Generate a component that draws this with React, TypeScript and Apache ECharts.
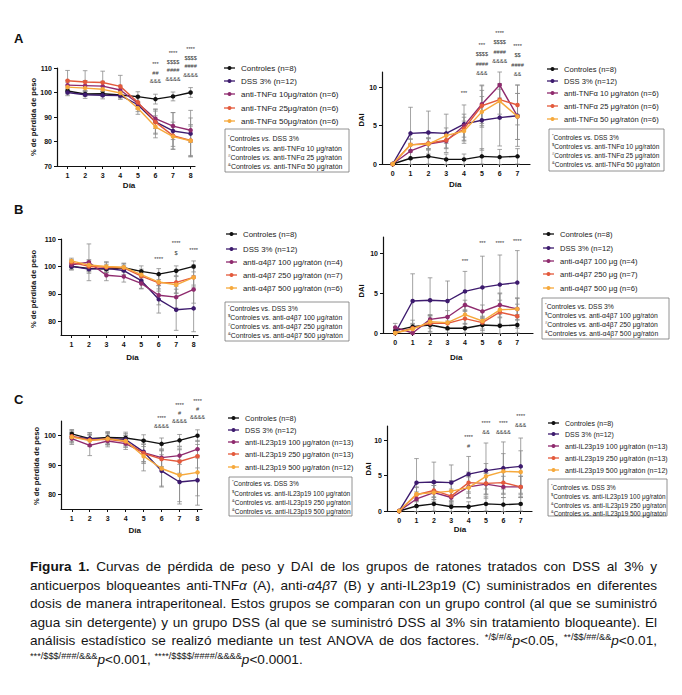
import React, { useEffect, useRef } from "react";
import * as echarts from "echarts";

const FONT = '"Liberation Sans", Arial, Helvetica, sans-serif';
const COLORS = ["#111111", "#3d1b6e", "#8f2b6e", "#e35a3c", "#f6a93c"];
const ERR_COLOR = "#8c8c8c";

// ---------- DATA ----------
const DAYS_PESO = [1, 2, 3, 4, 5, 6, 7, 8];
const DAYS_DAI = [0, 1, 2, 3, 4, 5, 6, 7];

const TICKS_PESO_A = [70, 80, 90, 100, 110];
const TICKS_PESO_B = [80, 90, 100, 110];
const TICKS_PESO_C = [80, 90, 100];
const TICKS_DAI = [0, 5, 10];

// Panel A - peso
const A_PESO_CTRL = [100.6, 99.4, 99.5, 99.0, 98.3, 97.3, 98.4, 100.0];
const A_PESO_DSS = [100.0, 99.1, 98.9, 98.8, 95.0, 88.0, 84.3, 83.2];
const A_PESO_T10 = [103.0, 102.8, 102.6, 101.0, 95.6, 89.3, 86.3, 84.6];
const A_PESO_T25 = [104.8, 104.3, 104.1, 102.5, 96.0, 87.9, 82.4, 80.4];
const A_PESO_T50 = [102.2, 101.8, 101.3, 99.8, 93.6, 86.0, 82.0, 80.3];
const A_PESO_CTRL_SD = [1.2, 1.0, 1.0, 1.0, 2.0, 2.0, 1.8, 2.0];
const A_PESO_DSS_SD = [1.3, 1.5, 1.5, 1.5, 2.8, 5.0, 7.5, 9.5];
const A_PESO_T10_SD = [2.0, 2.0, 2.0, 2.0, 2.5, 4.0, 5.5, 5.0];
const A_PESO_T25_SD = [4.2, 4.6, 4.6, 4.5, 2.5, 4.5, 5.5, 6.5];
const A_PESO_T50_SD = [2.0, 3.0, 3.0, 2.5, 2.5, 4.5, 4.0, 6.0];

// Panel A - DAI
const A_DAI_CTRL = [0, 0.75, 1.0, 0.6, 0.6, 1.0, 0.9, 1.0];
const A_DAI_DSS = [0, 4.0, 4.1, 4.0, 5.2, 5.7, 6.05, 6.3];
const A_DAI_T10 = [0, 1.7, 2.6, 3.0, 5.0, 7.8, 10.3, 6.2];
const A_DAI_T25 = [0, 2.5, 2.7, 3.1, 4.6, 7.6, 8.4, 7.7];
const A_DAI_T50 = [0, 2.5, 2.6, 3.7, 4.3, 6.8, 8.2, 6.2];
const A_DAI_CTRL_SD = [0, 0.8, 1.0, 0.7, 0.7, 1.0, 1.0, 1.0];
const A_DAI_DSS_SD = [0, 3.4, 2.8, 2.5, 2.5, 3.9, 3.7, 4.0];
const A_DAI_T10_SD = [0, 1.0, 0.8, 1.0, 1.5, 2.5, 1.7, 3.0];
const A_DAI_T25_SD = [0, 0.8, 0.7, 1.0, 1.5, 2.6, 1.9, 2.6];
const A_DAI_T50_SD = [0, 0.7, 0.7, 1.0, 1.3, 2.0, 2.3, 3.0];

// Panel B - peso
const B_PESO_CTRL = [100.0, 99.3, 99.0, 99.5, 98.2, 97.2, 98.4, 100.0];
const B_PESO_DSS = [100.0, 99.0, 99.3, 98.5, 94.8, 88.0, 84.2, 84.7];
const B_PESO_A100 = [100.6, 101.5, 96.8, 96.3, 93.8, 89.5, 88.8, 91.6];
const B_PESO_A250 = [101.5, 100.0, 99.7, 99.5, 96.5, 94.0, 94.2, 96.0];
const B_PESO_A500 = [102.0, 100.5, 100.0, 99.7, 97.0, 94.3, 93.3, 96.0];
const B_PESO_CTRL_SD = [1.2, 1.0, 1.0, 1.0, 2.0, 2.0, 1.8, 2.0];
const B_PESO_DSS_SD = [1.3, 1.5, 1.5, 1.5, 2.8, 5.0, 7.5, 8.5];
const B_PESO_A100_SD = [1.5, 6.7, 2.0, 2.0, 2.0, 3.5, 4.0, 5.0];
const B_PESO_A250_SD = [1.0, 2.0, 2.0, 1.5, 2.0, 3.0, 4.0, 4.5];
const B_PESO_A500_SD = [1.0, 2.0, 1.5, 1.5, 2.0, 2.5, 3.0, 3.5];

// Panel B - DAI
const B_DAI_CTRL = [0.3, 0.8, 1.0, 0.6, 0.6, 1.0, 0.9, 1.0];
const B_DAI_DSS = [0, 4.0, 4.1, 4.0, 5.2, 5.7, 6.05, 6.3];
const B_DAI_A100 = [0.7, 0, 1.7, 2.0, 3.5, 2.7, 3.5, 3.0];
const B_DAI_A250 = [0, 0.6, 1.2, 1.2, 1.8, 1.3, 2.6, 2.1];
const B_DAI_A500 = [0, 0.5, 1.4, 1.3, 2.3, 1.5, 2.9, 3.0];
const B_DAI_CTRL_SD = [0, 0.8, 1.0, 0.6, 0.6, 1.0, 1.0, 1.0];
const B_DAI_DSS_SD = [0, 3.4, 2.8, 2.5, 2.5, 3.9, 3.7, 4.0];
const B_DAI_A100_SD = [0.5, 0, 0.6, 0.8, 0.6, 0.8, 1.5, 1.3];
const B_DAI_A250_SD = [0, 0.6, 1.0, 0.8, 1.0, 0.8, 1.5, 1.5];
const B_DAI_A500_SD = [0, 0.6, 0.8, 0.8, 1.2, 1.2, 2.0, 1.4];

// Panel C - peso
const C_PESO_CTRL = [100.6, 99.0, 99.4, 99.2, 98.3, 97.2, 98.4, 100.0];
const C_PESO_DSS = [99.6, 99.0, 99.0, 98.7, 94.5, 88.0, 84.2, 84.8];
const C_PESO_I100 = [99.0, 96.7, 98.2, 97.3, 94.2, 92.5, 93.2, 95.4];
const C_PESO_I250 = [99.8, 98.5, 98.8, 98.0, 94.0, 92.0, 91.2, 93.0];
const C_PESO_I500 = [99.5, 98.3, 99.0, 98.2, 93.0, 88.8, 86.5, 87.5];
const C_PESO_CTRL_SD = [1.5, 2.0, 2.0, 2.0, 2.0, 2.0, 2.0, 2.0];
const C_PESO_DSS_SD = [1.5, 2.0, 2.0, 2.0, 4.0, 5.5, 7.5, 8.5];
const C_PESO_I100_SD = [2.0, 3.5, 2.0, 2.0, 3.0, 3.0, 3.0, 3.0];
const C_PESO_I250_SD = [2.0, 2.0, 2.0, 2.0, 3.0, 3.0, 4.0, 4.0];
const C_PESO_I500_SD = [2.0, 2.0, 2.0, 2.0, 5.0, 6.0, 9.0, 8.0];

// Panel C - DAI
const C_DAI_CTRL = [0, 0.7, 1.0, 0.6, 0.6, 1.0, 0.9, 1.0];
const C_DAI_DSS = [0, 4.0, 4.1, 4.0, 5.2, 5.7, 6.05, 6.3];
const C_DAI_I100 = [0, 1.7, 2.6, 1.9, 3.4, 3.8, 3.4, 3.4];
const C_DAI_I250 = [0, 2.3, 2.9, 2.1, 4.0, 3.9, 4.0, 3.4];
const C_DAI_I500 = [0, 2.4, 2.6, 2.8, 3.3, 4.9, 5.6, 5.5];
const C_DAI_CTRL_SD = [0, 0.8, 1.0, 0.7, 0.7, 1.0, 1.0, 1.0];
const C_DAI_DSS_SD = [0, 3.4, 2.8, 2.5, 2.5, 3.9, 3.7, 4.0];
const C_DAI_I100_SD = [0, 1.0, 1.0, 1.0, 1.5, 1.5, 1.5, 1.5];
const C_DAI_I250_SD = [0, 1.0, 1.0, 1.0, 1.5, 1.5, 1.5, 1.5];
const C_DAI_I500_SD = [0, 1.0, 1.0, 1.5, 1.5, 1.8, 2.5, 3.0];

// Legends
const LEG_A1 = ["Controles (n=8)", "DSS 3% (n=12)", "anti-TNFα 10μg/ratón (n=6)", "anti-TNFα 25μg/ratón (n=6)", "anti-TNFα 50μg/ratón (n=6)"];
const LEG_A2 = ["Controles (n=8)", "DSS 3% (n=12)", "anti-TNFα 10 μg/ratón (n=6)", "anti-TNFα 25 μg/ratón (n=6)", "anti-TNFα 50 μg/ratón (n=6)"];
const LEG_B1 = ["Controles (n=8)", "DSS 3% (n=12)", "anti-α4β7 100 μg/ratón (n=4)", "anti-α4β7 250 μg/ratón (n=7)", "anti-α4β7 500 μg/ratón (n=6)"];
const LEG_B2 = ["Controles (n=8)", "DSS 3% (n=12)", "anti-α4β7 100 μg (n=4)", "anti-α4β7 250 μg (n=7)", "anti-α4β7 500 μg (n=6)"];
const LEG_C = ["Controles (n=8)", "DSS 3% (n=12)", "anti-IL23p19 100 μg/ratón (n=13)", "anti-IL23p19 250 μg/ratón (n=13)", "anti-IL23p19 500 μg/ratón (n=12)"];

const BOX_A = [["*", "Controles vs. DSS 3%"], ["$", "Controles vs. anti-TNFα 10 μg/ratón"], ["#", "Controles vs. anti-TNFα 25 μg/ratón"], ["&", "Controles vs. anti-TNFα 50 μg/ratón"]];
const BOX_B = [["*", "Controles vs. DSS 3%"], ["$", "Controles vs. anti-α4β7 100 μg/ratón"], ["#", "Controles vs. anti-α4β7 250 μg/ratón"], ["&", "Controles vs. anti-α4β7 500 μg/ratón"]];
const BOX_C = [["*", "Controles vs. DSS 3%"], ["$", "Controles vs. anti-IL23p19 100 μg/ratón"], ["&", "Controles vs. anti-IL23p19 250 μg/ratón"], ["&", "Controles vs. anti-IL23p19 500 μg/ratón"]];

// Significance marks: [day, marks...]
const SIG_A1 = [[6, "***", "##", "&&&"], [7, "****", "$$$$", "####", "&&&&"], [8, "****", "$$$$", "####", "&&&&"]];
const SIG_A2 = [[4, "***"], [5, "***", "$$$$", "####", "&&&"], [6, "****", "$$$$", "####", "&&&&"], [7, "****", "$$", "####", "&&"]];
const SIG_B1 = [[6, "****"], [7, "****", "$"], [8, "****"]];
const SIG_B2 = [[4, "***"], [5, "***"], [6, "****"], [7, "****"]];
const SIG_C1 = [[6, "****", "&&&&"], [7, "****", "#", "&&&&"], [8, "****", "#", "&&&&"]];
const SIG_C2 = [[4, "****", "#"], [5, "****", "&&"], [6, "****", "&&&&"], [7, "****", "&&&"]];

const CAPTION = [
  "{b|Figura} {b|1.} Curvas de pérdida de peso y DAI de los grupos de ratones tratados con DSS al 3% y",
  "anticuerpos bloqueantes anti-TNF{i|α} (A), anti-{i|α}4{i|β}7 (B) y anti-IL23p19 (C) suministrados en diferentes",
  "dosis de manera intraperitoneal. Estos grupos se comparan con un grupo control (al que se suministró",
  "agua sin detergente) y un grupo DSS (al que se suministró DSS al 3% sin tratamiento bloqueante). El",
  "análisis estadístico se realizó mediante un test ANOVA de dos factores. {s|*/$/#/&}{i|p}<0.05, {s|**/$$/##/&&}{i|p}<0.01,",
  "{s|***/$$$/###/&&&}{i|p}<0.001, {s|****/$$$$/####/&&&&}{i|p}<0.0001.",
];

// ---------- LAYOUT ----------
type P = {
  g: { left: number; top: number; width: number; height: number };
  xMin: number; xMax: number; xTicks: number[];
  yMin: number; yMax: number; yTicks: number[];
  x: number[]; means: number[][]; sds: number[][];
  sig: any[]; sigTops: number[]; sigStep: number;
  yName: string; yNameX: number; yNameY: number; dayY: number;
  leg: string[]; legL: number; legY: number[]; legFont: number;
  box: string[][]; boxR: number[]; boxY: number[]; boxFont: number; boxItalic: boolean;
};

const PANELS: P[] = [
  {
    g: { left: 57, top: 68, width: 138, height: 98 }, xMin: 0.4, xMax: 8.25, xTicks: DAYS_PESO,
    yMin: 70, yMax: 110, yTicks: TICKS_PESO_A, x: DAYS_PESO,
    means: [A_PESO_CTRL, A_PESO_DSS, A_PESO_T10, A_PESO_T25, A_PESO_T50],
    sds: [A_PESO_CTRL_SD, A_PESO_DSS_SD, A_PESO_T10_SD, A_PESO_T25_SD, A_PESO_T50_SD],
    sig: SIG_A1, sigTops: [64, 53, 49], sigStep: 8.6,
    yName: "% de pérdida de peso", yNameX: 33, yNameY: 117, dayY: 185,
    leg: LEG_A1, legL: 224, legY: [68, 81, 94, 108, 121], legFont: 8,
    box: BOX_A, boxR: [225, 129, 124, 43], boxY: [138, 148, 157, 166], boxFont: 7, boxItalic: true,
  },
  {
    g: { left: 382, top: 72, width: 148, height: 92 }, xMin: -0.6, xMax: 7.7, xTicks: DAYS_DAI,
    yMin: 0, yMax: 12, yTicks: TICKS_DAI, x: DAYS_DAI,
    means: [A_DAI_CTRL, A_DAI_DSS, A_DAI_T10, A_DAI_T25, A_DAI_T50],
    sds: [A_DAI_CTRL_SD, A_DAI_DSS_SD, A_DAI_T10_SD, A_DAI_T25_SD, A_DAI_T50_SD],
    sig: SIG_A2, sigTops: [93, 45, 33, 46], sigStep: 9.3,
    yName: "DAI", yNameX: 361, yNameY: 120, dayY: 184,
    leg: LEG_A2, legL: 547, legY: [69, 81, 93, 106, 119], legFont: 7.6,
    box: BOX_A, boxR: [549, 129, 115, 42], boxY: [137, 146, 155, 164], boxFont: 6.6, boxItalic: false,
  },
  {
    g: { left: 61, top: 239, width: 137, height: 96 }, xMin: 0.4, xMax: 8.25, xTicks: DAYS_PESO,
    yMin: 75, yMax: 110, yTicks: TICKS_PESO_B, x: DAYS_PESO,
    means: [B_PESO_CTRL, B_PESO_DSS, B_PESO_A100, B_PESO_A250, B_PESO_A500],
    sds: [B_PESO_CTRL_SD, B_PESO_DSS_SD, B_PESO_A100_SD, B_PESO_A250_SD, B_PESO_A500_SD],
    sig: SIG_B1, sigTops: [259, 243, 250], sigStep: 10,
    yName: "% de pérdida de peso", yNameX: 33, yNameY: 289, dayY: 357,
    leg: LEG_B1, legL: 226, legY: [234, 249, 262, 275, 288], legFont: 7.8,
    box: BOX_B, boxR: [225, 302, 124, 39], boxY: [308, 317, 326, 335], boxFont: 6.9, boxItalic: false,
  },
  {
    g: { left: 383, top: 237, width: 150, height: 96 }, xMin: -0.7, xMax: 7.9, xTicks: DAYS_DAI,
    yMin: 0, yMax: 12, yTicks: TICKS_DAI, x: DAYS_DAI,
    means: [B_DAI_CTRL, B_DAI_DSS, B_DAI_A100, B_DAI_A250, B_DAI_A500],
    sds: [B_DAI_CTRL_SD, B_DAI_DSS_SD, B_DAI_A100_SD, B_DAI_A250_SD, B_DAI_A500_SD],
    sig: SIG_B2, sigTops: [261, 243, 243, 241], sigStep: 9,
    yName: "DAI", yNameX: 361, yNameY: 291, dayY: 357,
    leg: LEG_B2, legL: 543, legY: [234, 248, 261, 274, 288], legFont: 7.6,
    box: BOX_B, boxR: [542, 298, 127, 41], boxY: [306, 315, 324, 333], boxFont: 6.8, boxItalic: false,
  },
  {
    g: { left: 61, top: 421, width: 141, height: 88 }, xMin: 0.4, xMax: 8.25, xTicks: DAYS_PESO,
    yMin: 75, yMax: 105, yTicks: TICKS_PESO_C, x: DAYS_PESO,
    means: [C_PESO_CTRL, C_PESO_DSS, C_PESO_I100, C_PESO_I250, C_PESO_I500],
    sds: [C_PESO_CTRL_SD, C_PESO_DSS_SD, C_PESO_I100_SD, C_PESO_I250_SD, C_PESO_I500_SD],
    sig: SIG_C1, sigTops: [418, 405, 401], sigStep: 8,
    yName: "% de pérdida de peso", yNameX: 36, yNameY: 466, dayY: 530,
    leg: LEG_C, legL: 228, legY: [418, 430, 442, 454, 467], legFont: 7.4,
    box: BOX_C, boxR: [229, 477, 123, 39], boxY: [483, 493, 502, 511], boxFont: 6.6, boxItalic: false,
  },
  {
    g: { left: 387, top: 426, width: 145, height: 85 }, xMin: -0.7, xMax: 7.65, xTicks: DAYS_DAI,
    yMin: 0, yMax: 12, yTicks: TICKS_DAI, x: DAYS_DAI,
    means: [C_DAI_CTRL, C_DAI_DSS, C_DAI_I100, C_DAI_I250, C_DAI_I500],
    sds: [C_DAI_CTRL_SD, C_DAI_DSS_SD, C_DAI_I100_SD, C_DAI_I250_SD, C_DAI_I500_SD],
    sig: SIG_C2, sigTops: [437, 423, 423, 416], sigStep: 8.6,
    yName: "DAI", yNameX: 368, yNameY: 469, dayY: 529,
    leg: LEG_C, legL: 548, legY: [423, 434, 446, 458, 470], legFont: 7,
    box: BOX_C, boxR: [548, 479, 119, 37], boxY: [487, 496, 505, 513], boxFont: 6.4, boxItalic: false,
  },
];

const LETTERS: [string, number, number][] = [["A", 14, 38], ["B", 14, 209], ["C", 14, 399]];

// ---------- HELPERS ----------
function px(p: P, v: number) {
  return p.g.left + ((v - p.xMin) / (p.xMax - p.xMin)) * p.g.width;
}

function parseWord(w: string) {
  const segs: { t: string; k: string }[] = [];
  const re = /\{(\w)\|([^}]*)\}|([^{]+)/g;
  let m: RegExpExecArray | null;
  while ((m = re.exec(w))) {
    if (m[3] !== undefined) segs.push({ t: m[3], k: "n" });
    else segs.push({ t: m[2], k: m[1] });
  }
  return segs;
}

const CAP_SIZE = 13.6;
const SUP_SIZE = 9.2;
function segFont(k: string) {
  return {
    fontSize: k === "s" ? SUP_SIZE : CAP_SIZE,
    fontWeight: k === "b" ? "bold" : "normal",
    fontStyle: k === "i" ? "italic" : "normal",
  };
}

function buildCaption(): any[] {
  const canvas = document.createElement("canvas");
  const ctx = canvas.getContext("2d")!;
  const meas = (s: { t: string; k: string }) => {
    const f = segFont(s.k);
    ctx.font = `${f.fontStyle} ${f.fontWeight} ${f.fontSize}px ${FONT}`;
    return ctx.measureText(s.t).width;
  };
  const els: any[] = [];
  const X0 = 30, X1 = 657, Y0 = 566.5, STEP = 18.6;
  CAPTION.forEach((line, li) => {
    const y = Y0 + li * STEP;
    const words = line.split(" ").map(parseWord);
    const widths = words.map((segs) => segs.reduce((a, s) => a + meas(s), 0));
    const total = widths.reduce((a, b) => a + b, 0);
    const sp = meas({ t: " ", k: "n" });
    const justify = li < CAPTION.length - 1;
    let gap = justify ? (X1 - X0 - total) / (words.length - 1) : sp;
    if (gap < sp * 0.7) gap = sp * 0.7;
    let x = X0;
    words.forEach((segs, wi) => {
      let sx = x;
      segs.forEach((s) => {
        els.push({
          type: "text", x: sx, y: s.k === "s" ? y - 4 : y, silent: true,
          style: { text: s.t, ...segFont(s.k), fontFamily: FONT, fill: "#141414", align: "left", verticalAlign: "middle" },
        });
        sx += meas(s);
      });
      x += widths[wi] + gap;
    });
  });
  return els;
}

function panelGraphics(p: P): any[] {
  const els: any[] = [];
  p.sig.forEach((col: any[], ci: number) => {
    const cx = px(p, col[0]);
    col.slice(1).forEach((mark: string, k: number) => {
      els.push({
        type: "text", x: cx, y: p.sigTops[ci] + k * p.sigStep, silent: true,
        style: { text: mark, fontSize: 5.6, fontFamily: FONT, fill: "#333", align: "center", verticalAlign: "middle" },
      });
    });
  });
  els.push({
    type: "text", x: p.yNameX, y: p.yNameY, rotation: Math.PI / 2, silent: true,
    style: { text: p.yName, fontSize: 7.6, fontWeight: "bold", fontFamily: FONT, fill: "#111", align: "center", verticalAlign: "middle" },
  });
  const dayX = (px(p, p.xTicks[0]) + px(p, p.xTicks[p.xTicks.length - 1])) / 2;
  els.push({
    type: "text", x: dayX, y: p.dayY, silent: true,
    style: { text: "Día", fontSize: 8, fontWeight: "bold", fontFamily: FONT, fill: "#111", align: "center", verticalAlign: "middle" },
  });
  p.leg.forEach((lab, i) => {
    const y = p.legY[i];
    els.push({ type: "line", silent: true, shape: { x1: p.legL, y1: y, x2: p.legL + 11, y2: y }, style: { stroke: COLORS[i], lineWidth: 1.3 } });
    els.push({ type: "circle", silent: true, shape: { cx: p.legL + 5.5, cy: y, r: 2 }, style: { fill: COLORS[i] } });
    els.push({
      type: "text", x: p.legL + 17, y, silent: true,
      style: { text: lab, fontSize: p.legFont, fontFamily: FONT, fill: "#222", align: "left", verticalAlign: "middle" },
    });
  });
  const [bx, by, bw, bh] = p.boxR;
  els.push({ type: "rect", silent: true, shape: { x: bx, y: by, width: bw, height: bh }, style: { fill: "none", stroke: "#777", lineWidth: 0.8 } });
  p.box.forEach(([sym, txt], i) => {
    const parts = txt.split(" vs. ");
    els.push({
      type: "text", x: bx + 3, y: p.boxY[i], silent: true,
      style: {
        text: `{s|${sym}}${parts[0]} {v|vs.} ${parts[1]}`,
        fontSize: p.boxFont, fontFamily: FONT, fill: "#222", align: "left", verticalAlign: "middle",
        rich: {
          s: { fontSize: p.boxFont * 0.62, fontFamily: FONT, fill: "#222", verticalAlign: "top", lineHeight: p.boxFont + 1 },
          v: { fontSize: p.boxFont, fontFamily: FONT, fill: "#222", fontStyle: p.boxItalic ? "italic" : "normal", lineHeight: p.boxFont + 1 },
        },
      },
    });
  });
  return els;
}

function errRender(params: any, api: any) {
  const x = api.value(0), lo = api.value(1), hi = api.value(2);
  if (hi - lo <= 0) return null;
  const p1 = api.coord([x, lo]);
  const p2 = api.coord([x, hi]);
  const c = 2.3;
  const st = { stroke: ERR_COLOR, lineWidth: 0.8 };
  return {
    type: "group",
    children: [
      { type: "line", shape: { x1: p1[0], y1: p1[1], x2: p2[0], y2: p2[1] }, style: st },
      { type: "line", shape: { x1: p1[0] - c, y1: p1[1], x2: p1[0] + c, y2: p1[1] }, style: st },
      { type: "line", shape: { x1: p2[0] - c, y1: p2[1], x2: p2[0] + c, y2: p2[1] }, style: st },
    ],
  };
}

function buildOption() {
  const grid = PANELS.map((p) => ({ ...p.g, containLabel: false, outerBoundsMode: "none" }));
  const axisCommon = {
    splitLine: { show: false },
    axisLine: { show: true, onZero: false, lineStyle: { color: "#111", width: 1.2 } },
  };
  const xAxis = PANELS.map((p, i) => ({
    type: "value", gridIndex: i, min: p.xMin, max: p.xMax, ...axisCommon,
    axisTick: { show: true, customValues: p.xTicks, length: 3, lineStyle: { color: "#111", width: 1 } },
    axisLabel: { customValues: p.xTicks, fontSize: 7, fontWeight: "bold", color: "#111", fontFamily: FONT, margin: 6 },
  }));
  const yAxis = PANELS.map((p, i) => ({
    type: "value", gridIndex: i, min: p.yMin, max: p.yMax, ...axisCommon,
    axisTick: { show: true, customValues: p.yTicks, length: 3, lineStyle: { color: "#111", width: 1 } },
    axisLabel: { customValues: p.yTicks, fontSize: 7, fontWeight: "bold", color: "#111", fontFamily: FONT, margin: 5 },
  }));
  const series: any[] = [];
  PANELS.forEach((p, i) => {
    p.means.forEach((m, j) => {
      series.push({
        type: "custom", xAxisIndex: i, yAxisIndex: i, silent: true, z: 1,
        renderItem: errRender, encode: { x: 0, y: [1, 2] },
        data: p.x.map((d, k) => [d, m[k] - p.sds[j][k], m[k] + p.sds[j][k]]),
      });
    });
    p.means.forEach((m, j) => {
      series.push({
        type: "line", name: p.leg[j], xAxisIndex: i, yAxisIndex: i, silent: true, z: 3 + j,
        symbol: "circle", symbolSize: 4.5, showSymbol: true,
        lineStyle: { color: COLORS[j], width: 1.4 }, itemStyle: { color: COLORS[j] },
        data: p.x.map((d, k) => [d, m[k]]),
      });
    });
  });
  const graphicEls: any[] = [];
  LETTERS.forEach(([t, x, y]) => {
    graphicEls.push({
      type: "text", x, y, silent: true,
      style: { text: t, fontSize: 13, fontWeight: "bold", fontFamily: FONT, fill: "#111", align: "left", verticalAlign: "middle" },
    });
  });
  PANELS.forEach((p) => graphicEls.push(...panelGraphics(p)));
  graphicEls.push(...buildCaption());
  return {
    animation: false,
    backgroundColor: "#ffffff",
    textStyle: { fontFamily: FONT },
    grid, xAxis, yAxis, series,
    graphic: { elements: graphicEls },
  };
}

export default function App() {
  const ref = useRef<HTMLDivElement>(null);
  useEffect(() => {
    if (!ref.current) return;
    const chart = echarts.init(ref.current, undefined, { renderer: "svg" });
    chart.setOption(buildOption() as any);
    return () => chart.dispose();
  }, []);
  return (
    <div
      ref={ref}
      style={{ position: "fixed", left: 0, top: 0, width: 682, height: 695, background: "#fff" }}
    />
  );
}
